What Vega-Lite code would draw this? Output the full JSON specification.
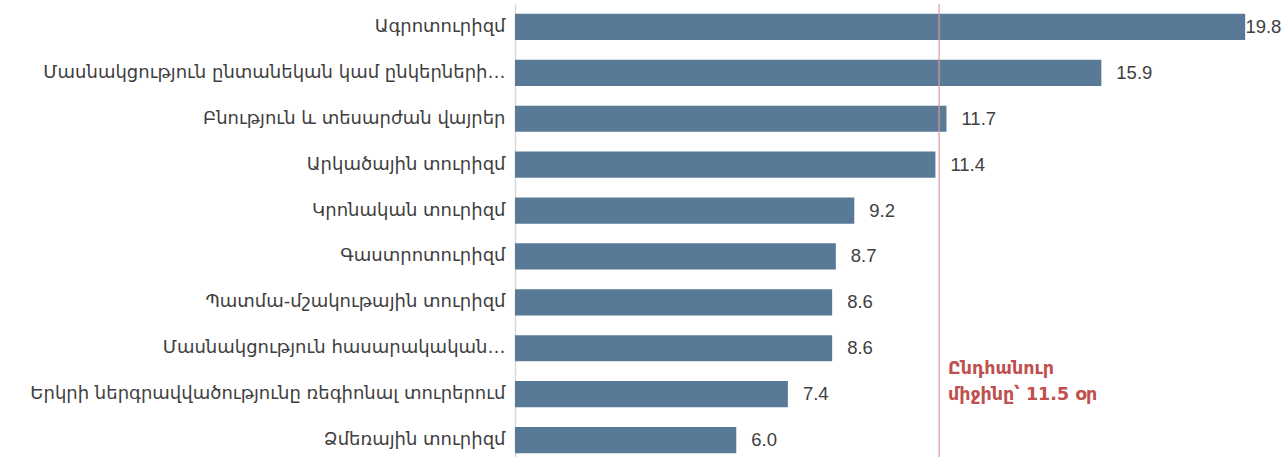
{
  "$schema": "https://vega.github.io/schema/vega-lite/v6.json",
  "autosize": "none",
  "width": 756,
  "height": 459,
  "padding": {"left": 515, "top": 4, "right": 16, "bottom": 0},
  "background": "white",
  "config": {"view": {"stroke": null}, "font": "Liberation Sans"},
  "data": {"values": [
    {"cat": "Ագրոտուրիզմ", "v": 19.8},
    {"cat": "Մասնակցություն ընտանեկան կամ ընկերների…", "v": 15.9},
    {"cat": "Բնություն և տեսարժան վայրեր ", "v": 11.7},
    {"cat": "Արկածային տուրիզմ", "v": 11.4},
    {"cat": "Կրոնական տուրիզմ", "v": 9.2},
    {"cat": "Գաստրոտուրիզմ", "v": 8.7},
    {"cat": "Պատմա-մշակութային տուրիզմ", "v": 8.6},
    {"cat": "Մասնակցություն հասարակական…", "v": 8.6},
    {"cat": "Երկրի ներգրավվածությունը ռեգիոնալ տուրերում", "v": 7.4},
    {"cat": "Ձմեռային տուրիզմ", "v": 6.0}
  ]},
  "resolve": {"scale": {"x": "independent"}},
  "layer": [
    {"mark": {"type": "bar", "color": "#587a96"},
     "encoding": {
       "y": {"field": "cat", "type": "nominal", "sort": null,
         "scale": {"paddingInner": 0.43, "paddingOuter": 0.215},
         "axis": {"title": null, "ticks": false, "domainColor": "#d9d9d9", "domainWidth": 1.5,
           "labelFont": "DejaVu Sans", "labelFontSize": 18, "labelColor": "#404040",
           "labelPadding": 10, "labelLimit": 520}},
       "x": {"field": "v", "type": "quantitative", "scale": {"domain": [0, 20.5], "nice": false, "zero": true}, "axis": null}}},
    {"mark": {"type": "text", "align": "left", "dx": 15, "fontSize": 18.5, "color": "#404040", "baseline": "middle", "font": "Liberation Sans"},
     "encoding": {
       "y": {"field": "cat", "type": "nominal", "sort": null},
       "x": {"field": "v", "type": "quantitative", "scale": {"domain": [0, 19.4], "range": [0, 715.4], "nice": false, "clamp": true}, "axis": null},
       "text": {"field": "v", "type": "quantitative", "format": ".1f"}}},
    {"data": {"values": [{"avg": 11.5}]},
     "mark": {"type": "rule", "color": "#d99a9a", "strokeWidth": 1.2},
     "encoding": {"x": {"field": "avg", "type": "quantitative", "scale": {"domain": [0, 20.5], "nice": false}, "axis": null}}},
    {"data": {"values": [{"cat": "Մասնակցություն հասարակական…", "x": 11.5, "t": ["Ընդհանուր", "միջինը՝ 11.5 օր"]}]},
     "mark": {"type": "text", "align": "left", "baseline": "alphabetic", "dx": 9, "dy": 26, "lineHeight": 26, "fontSize": 17.5, "fontWeight": "bold", "color": "#c0504d", "font": "DejaVu Sans"},
     "encoding": {
       "y": {"field": "cat", "type": "nominal", "sort": null},
       "x": {"field": "x", "type": "quantitative", "scale": {"domain": [0, 20.5], "nice": false}, "axis": null},
       "text": {"field": "t"}}}
  ]
}
